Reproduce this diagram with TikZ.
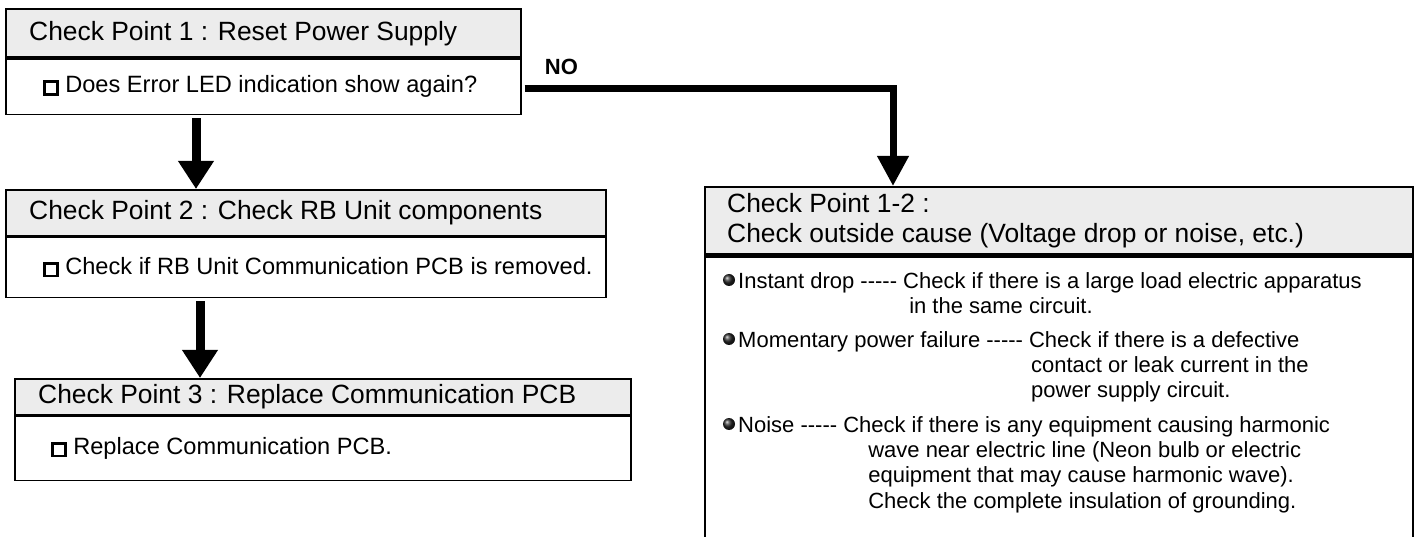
\documentclass[tikz,border=0pt]{standalone}
\usepackage{fontspec}
\setmainfont{Liberation Sans}
\usetikzlibrary{positioning,arrows.meta,calc}
\definecolor{hdrgray}{RGB}{236,236,236}
\newcommand{\chkbox}{{\setlength{\fboxsep}{0pt}\setlength{\fboxrule}{0.12em}\fbox{\rule{0pt}{0.42em}\rule{0.42em}{0pt}}}}
\newcommand{\dashrun}{\mbox{-}\mbox{-}\mbox{-}\mbox{-}\mbox{-}}

\begin{document}
\begin{tikzpicture}[x=1pt,y=-1pt,
  boxline/.style={draw,line width=1.6pt,inner sep=0pt},
  headframe/.style={boxline,fill=hdrgray},
  bodyframe/.style={boxline,fill=white},
  headtext/.style={inner sep=0pt,font=\fontsize{26.4}{30}\selectfont},
  bodytext/.style={inner sep=0pt,font=\fontsize{23.6}{26}\selectfont},
  sidetext/.style={inner sep=0pt,align=left,font=\fontsize{22}{25.3}\selectfont},
  notext/.style={inner sep=0pt,font=\bfseries\fontsize{22}{22}\selectfont},
  bigdown/.style={line width=9pt,-{Triangle[width=34pt,length=28pt]}},
  noflow/.style={line width=7pt,-{Triangle[width=30pt,length=30pt]}},
  bulletdot/.style={circle,minimum size=12pt,inner sep=0pt,shading=ball,ball color=black!85}
]
\useasboundingbox (0,0) rectangle (1414,537);

% left column
\node[headframe,anchor=north west,minimum width=515pt,minimum height=48pt] (cp1head) at (5,8.5) {};
\node[headtext,right=24pt of cp1head.west] (cp1title) {Check Point 1 : Reset Power Supply};
\node[bodyframe,below=0pt of cp1head,minimum width=515pt,minimum height=55.5pt] (cp1body) {};
\node[bodytext,right=38pt of cp1body.west] (cp1item) {\chkbox\ Does Error LED indication show again?};

\node[headframe,anchor=north west,minimum width=600pt,minimum height=46pt] (cp2head) at (5,189) {};
\node[headtext,right=24pt of cp2head.west] (cp2title) {Check Point 2 : Check RB Unit components};
\node[bodyframe,below=0pt of cp2head,minimum width=600pt,minimum height=60pt] (cp2body) {};
\node[bodytext,right=38pt of cp2body.west] (cp2item) {\chkbox\ Check if RB Unit Communication PCB is removed.};

\node[headframe,anchor=north west,minimum width=616pt,minimum height=36pt] (cp3head) at (14,378) {};
\node[headtext,right=24pt of cp3head.west] (cp3title) {Check Point 3 : Replace Communication PCB};
\node[bodyframe,below=0pt of cp3head,minimum width=616pt,minimum height=64pt] (cp3body) {};
\node[bodytext,right=37pt of cp3body.west] (cp3item) {\chkbox\ Replace Communication PCB.};

% right column
\node[headframe,line width=2.4pt,anchor=north west,minimum width=708pt,minimum height=67pt] (cp12head) at (704,186) {};
\node[headtext,align=left,right=23pt of cp12head.west] (cp12title)
  {Check Point 1-2 :\\Check outside cause (Voltage drop or noise, etc.)};
\node[bodyframe,line width=2.4pt,below=0pt of cp12head,minimum width=708pt,minimum height=320pt] (cp12body) {};

\node[bulletdot] (dot1) at (729,280) {};
\node[sidetext,anchor=north west] (item1) at (738,272)
  {Instant drop \dashrun\ Check if there is a large load electric apparatus\\
   \phantom{Instant drop \dashrun\ }\hspace{6pt}in the same circuit.};
\node[bulletdot] (dot2) at (729,339) {};
\node[sidetext,anchor=north west] (item2) at (738,331)
  {Momentary power failure \dashrun\ Check if there is a defective\\
   \phantom{Momentary power failure \dashrun\ }\hspace{2pt}contact or leak current in the\\
   \phantom{Momentary power failure \dashrun\ }\hspace{2pt}power supply circuit.};
\node[bulletdot] (dot3) at (729,424) {};
\node[sidetext,anchor=north west] (item3) at (738,416)
  {Noise \dashrun\ Check if there is any equipment causing harmonic\\
   \phantom{Noise \dashrun\ }\hspace{25pt}wave near electric line (Neon bulb or electric\\
   \phantom{Noise \dashrun\ }\hspace{25pt}equipment that may cause harmonic wave).\\
   \phantom{Noise \dashrun\ }\hspace{25pt}Check the complete insulation of grounding.};

% connectors
\draw[bigdown] ($(cp1body.south west)+(191,3)$) -- ($(cp2head.north west)+(191,0)$);
\draw[bigdown] ($(cp2body.south west)+(195,3)$) -- ($(cp3head.north west)+(186,0)$);
\draw[noflow] ([xshift=3pt,yshift=-2pt]cp1body.east) -| node[notext,pos=0.05,above=10pt] (nolbl) {NO}
  ($(cp12head.north west)+(189,0)$);
\end{tikzpicture}
\end{document}
